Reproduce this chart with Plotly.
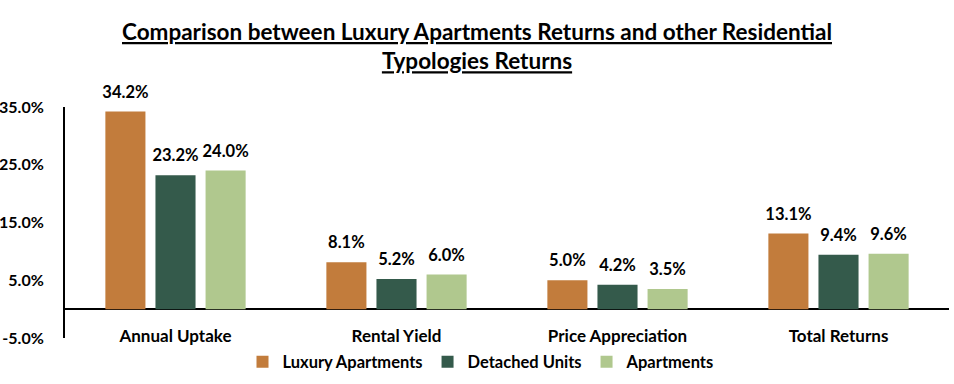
import plotly.graph_objects as go

categories = ["Annual Uptake", "Rental Yield", "Price Appreciation", "Total Returns"]
series_names = ["Luxury Apartments", "Detached Units", "Apartments"]
luxury_apartments = [34.2, 8.1, 5.0, 13.1]
detached_units = [23.2, 5.2, 4.2, 9.4]
apartments = [24.0, 6.0, 3.5, 9.6]
y_tick_vals = [-5, 5, 15, 25, 35]
y_tick_text = ["-5.0%", "5.0%", "15.0%", "25.0%", "35.0%"]
colors = ["#C27C3C", "#345A4B", "#B0C88E"]

FONT = "Lato, 'Open Sans', sans-serif"
W, H = 954, 384

fig = go.Figure()
all_series = [luxury_apartments, detached_units, apartments]
for name, vals, col in zip(series_names, all_series, colors):
    fig.add_trace(go.Bar(
        x=categories, y=vals, name=name,
        marker=dict(color=col, line=dict(width=0)),
    ))
# value labels, aligned with the grouped bars
for name, vals in zip(series_names, all_series):
    fig.add_trace(go.Scatter(
        x=categories, y=vals, mode="markers+text",
        text=["%.1f%%" % v for v in vals],
        textposition="top center",
        textfont=dict(family=FONT, size=16.5, color="black", weight="bold"),
        marker=dict(size=14, opacity=0),
        showlegend=False, hoverinfo="skip", cliponaxis=False,
    ))

fig.update_layout(
    width=W, height=H,
    margin=dict(l=65, r=5, t=107, b=46, autoexpand=False),
    paper_bgcolor="white", plot_bgcolor="white",
    font=dict(family=FONT, size=17, color="black", weight="bold"),
    barmode="group", bargap=0.32, bargroupgap=0.2,
    scattermode="group", scattergap=0.32,
    title=dict(
        text="<u>Comparison between Luxury Apartments Returns and other Residential</u><br><u>Typologies Returns</u>",
        x=477/W, xanchor="center", xref="container",
        y=1 - 40/H, yanchor="top", yref="container",
        font=dict(family=FONT, size=22.5, color="black", weight="bold"),
    ),
    showlegend=True,
    legend=dict(
        orientation="h", x=481/W, xanchor="center", xref="container",
        y=1 - 362/H, yanchor="middle", yref="container",
        font=dict(family=FONT, size=16.5, color="black", weight="bold"),
        traceorder="normal", bgcolor="rgba(0,0,0,0)",
    ),
    xaxis=dict(
        anchor="free", position=0.06, showline=False, showgrid=False,
        ticks="", automargin=False,
        tickfont=dict(family=FONT, size=17, color="black", weight="bold"),
    ),
    yaxis=dict(
        range=[-5, 35], tickvals=y_tick_vals, ticktext=y_tick_text,
        showgrid=False, showline=True, linecolor="black", linewidth=2,
        zeroline=True, zerolinecolor="black", zerolinewidth=2,
        ticks="", ticklabelstandoff=16, automargin=False,
        tickfont=dict(family=FONT, size=16, color="black", weight="bold"),
    ),
)

fig.write_html(
    "out.html",
    config={"displayModeBar": False},
    post_script="document.body.style.margin='0';document.body.style.padding='0';",
)
